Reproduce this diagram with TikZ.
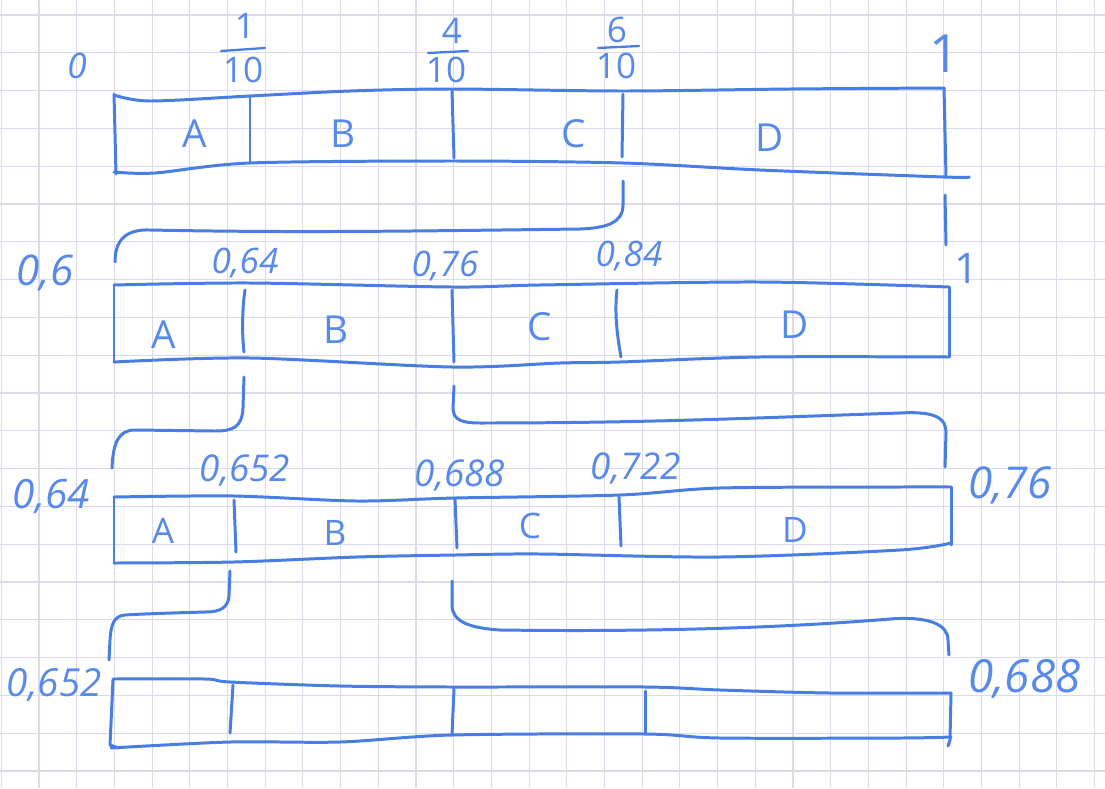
\documentclass[tikz,border=0pt]{standalone}
\usepackage{fontspec}
\setmainfont{Open Sans}
\definecolor{penblue}{RGB}{72,125,228}
\definecolor{inkblue}{RGB}{88,138,234}
\definecolor{gridc}{RGB}{218,218,234}
\tikzset{
  inkline/.style={draw=penblue, line width=1.7pt, line cap=round, line join=round},
  thinline/.style={draw=penblue, line width=1.3pt, line cap=round},
  paperline/.style={draw=gridc, line width=0.6pt},
  lbl/.style={text=inkblue, inner sep=0pt, anchor=base},
  letter/.style={lbl, font=\fontsize{22}{22}\selectfont},
  fracnum/.style={lbl, font=\fontsize{20}{20}\selectfont},
  numA/.style={lbl, font=\itshape\fontsize{20}{20}\selectfont},
  numB/.style={lbl, font=\itshape\fontsize{21}{21}\selectfont},
  numL/.style={lbl, font=\itshape\fontsize{25}{25}\selectfont},
  numXL/.style={lbl, font=\itshape\fontsize{26}{26}\selectfont},
}
\begin{document}
\begin{tikzpicture}[x=0.02cm, y=-0.02cm]
\useasboundingbox (0,0) rectangle (1105,788);
\fill[white] (0,0) rectangle (1105,788);

% squared paper
\foreach \k in {-1,...,28} \draw[paperline] ({39+37.7*\k},0) -- ({39+37.7*\k},788);
\foreach \k in {0,...,20} \draw[paperline] (0,{15+37.8*\k}) -- (1105,{15+37.8*\k});

% ---------- interval [0,1] ----------
\draw[inkline] plot[smooth] coordinates {(114,95) (150,101) (250,96) (350,91) (452,89) (623,91) (790,89) (944,88)};
\draw[inkline] plot[smooth] coordinates {(114,172) (155,173) (250,163) (452,161) (623,163) (760,170) (944,177) (969,177)};
\draw[inkline] (114,94) -- (116,174);
\draw[inkline] (944,88) -- (946,177);
\draw[inkline] (250,97) -- (250,163);
\draw[inkline] (452,91) -- (454,158);
\draw[inkline] (623,94) -- (622,157);

\node[numA] (z0) at (77,78) {0};
\node[fracnum] (f1n) at (245,38) {1};
\node[fracnum] (f1d) at (243,82) {10};
\draw[thinline] (221,51) -- (265,48);
\node[fracnum] (f4n) at (452,43) {4};
\node[fracnum] (f4d) at (446,82) {10};
\draw[thinline] (428,53) -- (468,51);
\node[fracnum] (f6n) at (617,42) {6};
\node[fracnum] (f6d) at (616,78) {10};
\draw[thinline] (598,48) -- (639,46);
\node[lbl, font=\fontsize{30}{30}\selectfont] (o1) at (945,72) {1};

\node[letter] (a1) at (195,147) {A};
\node[letter] (b1) at (343,147) {B};
\node[letter] (c1) at (574,147) {C};
\node[letter] (d1) at (770,151) {D};

% zoom into C = [0.6,1]
\coordinate (b1s) at (623,181);
\coordinate (b1e) at (115,262);
\draw[inkline] (b1s) -- (623,205) .. controls (623,223) and (606,228) .. (580,229)
  .. controls (420,231) and (300,233) .. (150,230) .. controls (124,229) and (115,242) .. (b1e);
\coordinate (t1s) at (945,195);
\coordinate (t1e) at (946,245);
\draw[inkline] (t1s) -- (t1e);

% ---------- interval [0.6,1] ----------
\draw[inkline] plot[smooth] coordinates {(114,285) (250,283) (452,287) (540,285) (760,282) (949,287)};
\draw[inkline] plot[smooth] coordinates {(114,362) (250,358) (452,367) (560,363) (620,362) (760,357) (949,357)};
\draw[inkline] (114,285) -- (114,362);
\draw[inkline] (949,287) -- (949,357);
\draw[inkline] (245,290) .. controls (242,310) and (242,335) .. (244,352);
\draw[inkline] (452,290) -- (454,362);
\draw[inkline] (617,290) .. controls (614,315) and (618,340) .. (621,357);

\node[lbl, font=\itshape\fontsize{24}{24}\selectfont] (l06) at (45,285) {0,6};
\node[numA] (v064) at (245,273) {0,64};
\node[numA] (v076) at (445,276) {0,76};
\node[numA] (v084) at (629,266) {0,84};
\node[lbl, font=\fontsize{24}{24}\selectfont] (r1) at (967,283) {1};

\node[letter] (a2) at (164,348) {A};
\node[letter] (b2) at (336,343) {B};
\node[letter] (c2) at (540,340) {C};
\node[letter] (d2) at (795,338) {D};

% zoom into B = [0.64,0.76]
\coordinate (b2ls) at (244,377);
\coordinate (b2le) at (112,468);
\draw[inkline] (b2ls) -- (243,408) .. controls (242,428) and (232,431) .. (215,431)
  -- (135,430) .. controls (119,430) and (113,442) .. (b2le);
\coordinate (b2rs) at (454,386);
\coordinate (b2re) at (945,467);
\draw[inkline] (b2rs) -- (453,408) .. controls (453,420) and (462,423) .. (480,423)
  .. controls (650,423) and (750,418) .. (900,413) .. controls (935,411) and (946,418) .. (946,432) -- (b2re);

% ---------- interval [0.64,0.76] ----------
\draw[inkline] plot[smooth] coordinates {(114,497) (234,496) (357,501) (455,498) (620,495) (720,488) (900,487) (951,487)};
\draw[inkline] plot[smooth] coordinates {(114,563) (234,562) (357,557) (455,555) (540,554) (720,557) (900,550) (951,543)};
\draw[inkline] (114,497) -- (114,563);
\draw[inkline] (951,487) -- (951,545);
\draw[inkline] (234,500) -- (236,552);
\draw[inkline] (455,499) -- (457,548);
\draw[inkline] (619,497) -- (621,546);

\node[lbl, font=\itshape\fontsize{23}{23}\selectfont, anchor=base east] (l064) at (90,508) {0,64};
\node[numB] (v0652) at (245,481) {0,652};
\node[numB] (v0688) at (460,486) {0,688};
\node[numB] (v0722) at (636,479) {0,722};
\node[numL, anchor=base west] (r076) at (968,498) {0,76};

\node[letter] (a3) at (163,543) {\fontsize{20}{20}\selectfont A};
\node[letter] (b3) at (335,545) {\fontsize{20}{20}\selectfont B};
\node[letter] (c3) at (530,538) {\fontsize{20}{20}\selectfont C};
\node[letter] (d3) at (795,542) {\fontsize{20}{20}\selectfont D};

% zoom into B = [0.652,0.688]
\coordinate (b3ls) at (230,571);
\coordinate (b3le) at (109,660);
\draw[inkline] (b3ls) -- (229,596) .. controls (228,608) and (220,612) .. (205,612)
  .. controls (170,613) and (140,614) .. (125,615) .. controls (114,616) and (111,624) .. (110,640) -- (b3le);
\coordinate (b3rs) at (452,581);
\coordinate (b3re) at (949,655);
\draw[inkline] (b3rs) -- (452,605) .. controls (452,622) and (470,628) .. (500,630)
  .. controls (650,632) and (780,628) .. (890,619) .. controls (930,616) and (948,625) .. (948,640) -- (b3re);

% ---------- interval [0.652,0.688] ----------
\draw[inkline] plot[smooth] coordinates {(113,679) (205,679) (230,682) (340,686) (452,687) (645,687) (720,690) (830,693) (951,693)};
\draw[inkline] plot[smooth] coordinates {(111,748) (230,742) (340,742) (452,735) (645,734) (720,738) (900,738) (951,737)};
\draw[inkline] (113,680) -- (110,745) -- (119,748);
\draw[inkline] (951,693) -- (950,740) -- (948,746);
\draw[inkline] (233,685) -- (230,733);
\draw[inkline] (454,689) -- (452,735);
\draw[inkline] (645,691) -- (645,734);

\node[lbl, font=\itshape\fontsize{22}{22}\selectfont, anchor=base east] (l0652) at (102,696) {0,652};
\node[numXL, anchor=base west] (r0688) at (968,692) {0,688};
\end{tikzpicture}
\end{document}
